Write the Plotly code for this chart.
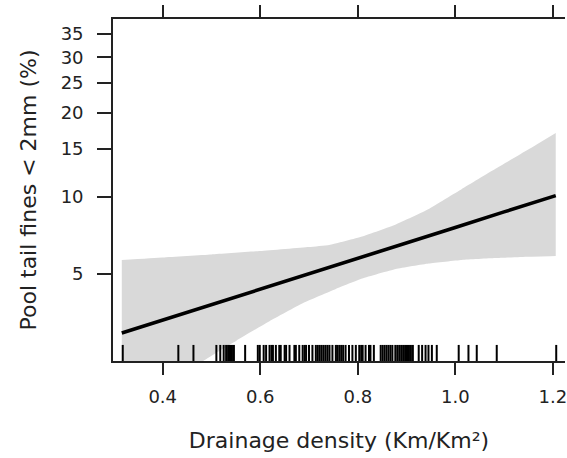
import numpy as np
import plotly.graph_objects as go

# ---- data ----
# fitted line: drainage density vs pool tail fines (%)
line_x = [0.316, 0.4, 0.5, 0.6, 0.7, 0.8, 0.9, 1.0, 1.1, 1.206]
line_y = [2.89, 3.26, 3.77, 4.35, 5.01, 5.78, 6.65, 7.63, 8.76, 10.1]

# confidence band (upper and lower limits)
upper_x = [0.316, 0.4, 0.5, 0.6, 0.7, 0.7415, 0.809, 0.878, 0.9455, 1.0135,
           1.0816, 1.1496, 1.206]
upper_y = [5.69, 5.82, 5.98, 6.17, 6.40, 6.52, 7.04, 7.84, 8.99, 10.70,
           12.69, 14.93, 17.08]
lower_x = [0.316, 0.4, 0.483, 0.551, 0.619, 0.686, 0.755, 0.809, 0.878, 0.9455,
           1.0135, 1.0816, 1.1496, 1.206]
lower_y = [1.25, 1.63, 2.22, 2.69, 3.23, 3.81, 4.36, 4.80, 5.24, 5.51,
           5.69, 5.79, 5.86, 5.90]

# rug of observed drainage densities
rug_x = [0.318, 0.432, 0.463, 0.510, 0.518, 0.525, 0.530, 0.534, 0.538, 0.542,
         0.546, 0.569, 0.595, 0.599, 0.607, 0.612, 0.619, 0.623, 0.626, 0.632,
         0.639, 0.642, 0.650, 0.653, 0.660, 0.670, 0.673, 0.680, 0.687, 0.691,
         0.694, 0.700, 0.707, 0.714, 0.718, 0.722, 0.726, 0.730, 0.734, 0.738,
         0.742, 0.748, 0.755, 0.758, 0.762, 0.766, 0.770, 0.775, 0.782, 0.789,
         0.796, 0.803, 0.807, 0.810, 0.816, 0.823, 0.826, 0.833, 0.847, 0.851,
         0.855, 0.859, 0.863, 0.867, 0.871, 0.877, 0.881, 0.885, 0.889, 0.893,
         0.897, 0.901, 0.905, 0.909, 0.913, 0.925, 0.932, 0.939, 0.945, 0.952,
         0.962, 1.007, 1.027, 1.044, 1.085, 1.207]

y_ticks = [5, 10, 15, 20, 25, 30, 35]
x_ticks = [0.4, 0.6, 0.8, 1.0, 1.2]
x_tick_labels = ["0.4", "0.6", "0.8", "1.0", "1.2"]

x_title = "Drainage density (Km/Km²)"
y_title = "Pool tail fines < 2mm (%)"


def logit_pct(p):
    p = np.asarray(p, dtype=float) / 100.0
    return np.log(p / (1 - p))


FONT = "DejaVu Sans"
INK = "#222222"
BAND = "#d9d9d9"

fig = go.Figure()

# confidence band: lower limit, then upper limit filled down to it
fig.add_trace(go.Scatter(x=lower_x, y=logit_pct(lower_y), mode="lines",
                         line=dict(width=0, color=BAND, shape="spline",
                                   smoothing=0.4),
                         hoverinfo="skip", showlegend=False))
fig.add_trace(go.Scatter(x=upper_x, y=logit_pct(upper_y), mode="lines",
                         fill="tonexty", fillcolor=BAND,
                         line=dict(width=0, color=BAND, shape="spline",
                                   smoothing=0.4),
                         hoverinfo="skip", showlegend=False))

# fitted line
fig.add_trace(go.Scatter(x=line_x, y=logit_pct(line_y), mode="lines",
                         line=dict(color="black", width=3.6),
                         showlegend=False))

# rug
rx, ry = [], []
for v in rug_x:
    rx += [v, v, None]
    ry += [0, 0.047, None]
fig.add_trace(go.Scatter(x=rx, y=ry, mode="lines", yaxis="y2",
                         line=dict(color="black", width=2),
                         hoverinfo="skip", showlegend=False))

fig.update_layout(
    width=567, height=458,
    margin=dict(l=113, r=0, t=19, b=97),
    paper_bgcolor="white", plot_bgcolor="white",
    font=dict(family=FONT, color=INK),
    xaxis=dict(range=[0.298, 1.225], tickvals=x_ticks, ticktext=x_tick_labels,
               showgrid=False, zeroline=False, showline=True, linecolor=INK,
               linewidth=1.7, mirror="ticks", ticks="outside", ticklen=12,
               tickwidth=1.7, tickcolor=INK, ticklabelstandoff=7,
               ticklabeloverflow="allow",
               tickfont=dict(family=FONT, size=18, color=INK),
               title=dict(text=x_title, font=dict(family=FONT, size=22, color=INK),
                          standoff=26)),
    yaxis=dict(range=[-3.785, -0.478], tickvals=list(logit_pct(y_ticks)),
               ticktext=[str(t) for t in y_ticks],
               showgrid=False, zeroline=False, showline=True, linecolor=INK,
               linewidth=1.7, mirror=False, ticks="outside", ticklen=14,
               tickwidth=1.7, tickcolor=INK, ticklabelstandoff=10,
               tickfont=dict(family=FONT, size=18, color=INK),
               title=dict(text=y_title, font=dict(family=FONT, size=22, color=INK),
                          standoff=18)),
    yaxis2=dict(range=[0, 1], overlaying="y", visible=False, fixedrange=True),
)

fig.write_html("out.html")
